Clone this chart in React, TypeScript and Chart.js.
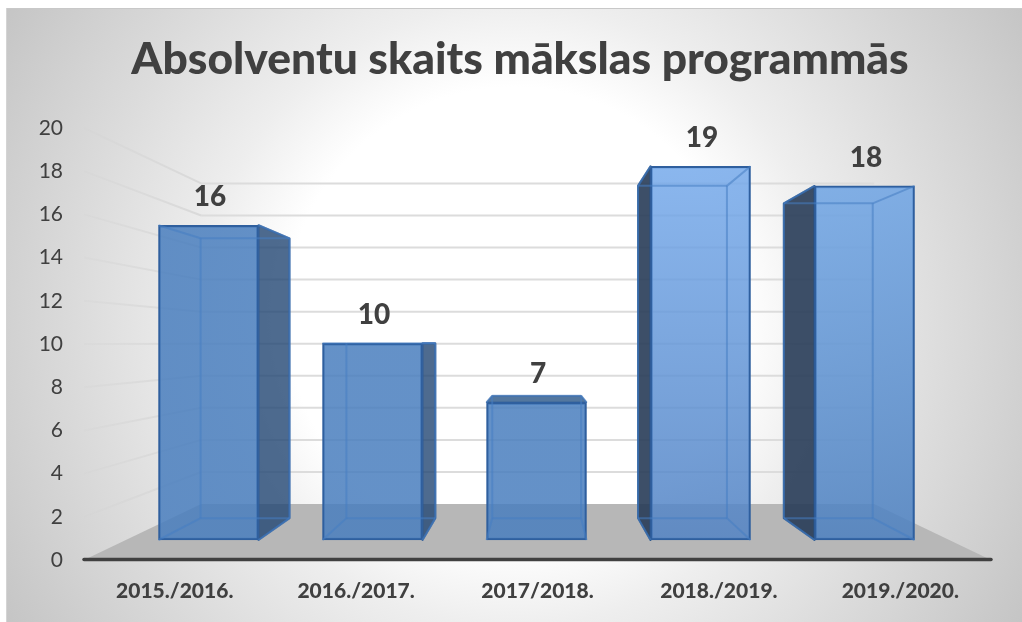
import React, { useEffect, useRef } from "react";
import { Chart, registerables } from "chart.js";

Chart.register(...registerables);

const categories = ["2015./2016.", "2016./2017.", "2017/2018.", "2018./2019.", "2019./2020."];
const absolventi = [16, 10, 7, 19, 18];
const barPositions = [0, 1, 2, 3, 4];
const topColors = ["rgba(73,126,190,0.85)", "rgba(73,126,190,0.85)", "rgba(73,126,190,0.85)", "rgba(120,172,237,0.85)", "rgba(114,168,232,0.85)"];
const bottomColors = ["rgba(73,126,190,0.85)", "rgba(73,126,190,0.85)", "rgba(73,126,190,0.85)", "rgba(82,131,196,0.85)", "rgba(76,128,192,0.85)"];
const titleText = "Absolventu skaits mākslas programmās";
const FONT = "Lato, 'Open Sans', sans-serif";
const TEXT = "#404040";

const VP = { x: 538, y: 343 };
const WALL_DEPTH = 0.742;
const BAR_DEPTH = 0.889;

const proj = (x: number, y: number, s: number) => ({ x: VP.x + s * (x - VP.x), y: VP.y + s * (y - VP.y) });

function poly(ctx: CanvasRenderingContext2D, pts: { x: number; y: number }[], fill?: string, stroke?: string, lw = 2) {
  ctx.beginPath();
  pts.forEach((p, i) => (i ? ctx.lineTo(p.x, p.y) : ctx.moveTo(p.x, p.y)));
  ctx.closePath();
  if (fill) {
    ctx.fillStyle = fill;
    ctx.fill();
  }
  if (stroke) {
    ctx.strokeStyle = stroke;
    ctx.lineWidth = lw;
    ctx.lineJoin = "round";
    ctx.stroke();
  }
}

function line(ctx: CanvasRenderingContext2D, a: { x: number; y: number }, b: { x: number; y: number }, stroke: any, lw = 2) {
  ctx.beginPath();
  ctx.moveTo(a.x, a.y);
  ctx.lineTo(b.x, b.y);
  ctx.strokeStyle = stroke;
  ctx.lineWidth = lw;
  ctx.stroke();
}

function barBox(el: any) {
  const l = el.x - el.width / 2;
  const r = el.x + el.width / 2;
  const t = el.y;
  const b = el.base;
  const bl = proj(l, b, BAR_DEPTH);
  const br = proj(r, b, BAR_DEPTH);
  const tl = proj(l, t, BAR_DEPTH);
  const tr = proj(r, t, BAR_DEPTH);
  return { l, r, t, b, bl, br, tl, tr };
}

const stagePlugin = {
  id: "stage",
  beforeDraw(chart: any) {
    const { ctx, width, height } = chart;
    ctx.save();
    ctx.fillStyle = "#ffffff";
    ctx.fillRect(0, 0, width, height);
    const g = ctx.createRadialGradient(514, 315, 0, 514, 315, 600);
    g.addColorStop(0, "#ffffff");
    g.addColorStop(0.38, "#ffffff");
    g.addColorStop(0.52, "#eeeeee");
    g.addColorStop(0.72, "#dcdcdc");
    g.addColorStop(1, "#c4c4c4");
    ctx.fillStyle = g;
    ctx.fillRect(6, 8, width - 6, height - 8);
    ctx.fillStyle = "#c8c8c8";
    ctx.fillRect(6, 8, width - 6, 1);
    ctx.fillStyle = "#d4d4d4";
    ctx.fillRect(6, 8, 1, height - 8);
    ctx.restore();
  },
  beforeDatasetsDraw(chart: any) {
    const { ctx, chartArea } = chart;
    const yScale = chart.scales.y;
    const { left, right, bottom } = chartArea;
    ctx.save();
    yScale.ticks.forEach((t: any) => {
      if (t.value === 0) return;
      const y = yScale.getPixelForValue(t.value);
      const a = proj(left, y, WALL_DEPTH);
      const b = proj(right, y, WALL_DEPTH);
      const fade = ctx.createLinearGradient(left, 0, a.x, 0);
      fade.addColorStop(0, "rgba(210,210,210,0.25)");
      fade.addColorStop(1, "rgba(214,214,214,0.85)");
      line(ctx, { x: left, y }, a, fade);
      line(ctx, a, b, "#dcdcdc");
    });
    poly(ctx, [
      { x: left, y: bottom },
      { x: right, y: bottom },
      proj(right, bottom, WALL_DEPTH),
      proj(left, bottom, WALL_DEPTH),
    ], "#b7b7b7");
    ctx.lineCap = "round";
    line(ctx, { x: left, y: bottom - 0.5 }, { x: right, y: bottom - 0.5 }, "#404040", 3.5);
    ctx.lineCap = "butt";

    chart.getDatasetMeta(0).data.forEach((el: any) => {
      const q = barBox(el);
      if (q.tl.x < q.l) {
        poly(ctx, [{ x: q.l, y: q.t }, q.tl, q.bl, { x: q.l, y: q.b }], "rgba(40,60,88,0.9)", "rgba(35,80,135,0.9)");
      }
      if (q.tr.x > q.r) {
        poly(ctx, [{ x: q.r, y: q.t }, q.tr, q.br, { x: q.r, y: q.b }], "rgba(34,70,115,0.8)", "rgba(45,90,150,0.85)");
      }
      if (q.t - q.tl.y > 2) {
        poly(ctx, [{ x: q.l, y: q.t }, q.tl, q.tr, { x: q.r, y: q.t }], "rgba(40,85,135,0.8)", "rgba(45,90,150,0.6)", 1.5);
      }
    });
    ctx.restore();
  },
  afterDatasetsDraw(chart: any) {
    const { ctx } = chart;
    const edge = "rgba(70,125,195,0.55)";
    ctx.save();
    chart.getDatasetMeta(0).data.forEach((el: any, i: number) => {
      const q = barBox(el);
      line(ctx, q.tl, q.tr, edge);
      line(ctx, q.bl, q.br, edge);
      line(ctx, q.tl, q.bl, edge);
      line(ctx, q.tr, q.br, edge);
      line(ctx, { x: q.l, y: q.t }, q.tl, edge);
      line(ctx, { x: q.r, y: q.t }, q.tr, edge);
      line(ctx, { x: q.l, y: q.b }, q.bl, edge);
      line(ctx, { x: q.r, y: q.b }, q.br, edge);
      ctx.fillStyle = TEXT;
      ctx.font = `900 28px ${FONT}`;
      ctx.textAlign = "center";
      ctx.textBaseline = "middle";
      ctx.fillText(String(absolventi[i]), el.x + 1.5, el.y - 28);
    });
    ctx.restore();
  },
};

export default function App() {
  const ref = useRef<HTMLCanvasElement>(null);
  useEffect(() => {
    const chart = new Chart(ref.current as HTMLCanvasElement, {
      type: "bar",
      data: {
        labels: categories,
        datasets: [
          {
            label: "Absolventu skaits",
            data: absolventi.map((v, i) => ({ x: barPositions[i], y: v })),
            xAxisID: "xBars",
            yAxisID: "yBars",
            barThickness: 100,
            borderWidth: 2,
            borderSkipped: false,
            borderColor: "#2f5f9e",
            backgroundColor: (c: any) => {
              const { chart: ch, dataIndex } = c;
              if (dataIndex === undefined) return topColors[0];
              const s = ch.scales.yBars;
              const y0 = s ? s.getPixelForValue(20) : NaN;
              const y1 = s ? s.getPixelForValue(0) : NaN;
              if (!ch.chartArea || !Number.isFinite(y0) || !Number.isFinite(y1)) return topColors[dataIndex];
              const g = ch.ctx.createLinearGradient(0, y0, 0, y1);
              g.addColorStop(0, topColors[dataIndex]);
              g.addColorStop(1, bottomColors[dataIndex]);
              return g;
            },
          },
        ],
      } as any,
      options: {
        responsive: false,
        animation: false,
        layout: { padding: { left: 18, right: 0, top: 0, bottom: 0 } },
        plugins: {
          legend: { display: false },
          tooltip: { enabled: false },
          title: {
            display: true,
            text: titleText,
            color: TEXT,
            font: { family: FONT, size: 44.4, weight: "900", lineHeight: 1.2 },
            padding: { top: 33.5, bottom: 41.2 },
          },
        },
        scales: {
          x: {
            type: "category",
            labels: categories,
            offset: true,
            grid: { display: false },
            border: { display: false },
            ticks: {
              color: TEXT,
              padding: 11,
              maxRotation: 0,
              autoSkip: false,
              font: { family: FONT, size: 21, weight: "900" },
            },
            afterFit: (s: any) => {
              s.height = 62;
            },
          },
          y: {
            type: "linear",
            min: 0,
            max: 20,
            grid: { display: false },
            border: { display: false },
            ticks: {
              stepSize: 2,
              color: TEXT,
              padding: 13,
              font: { family: FONT, size: 21 },
            },
            afterFit: (s: any) => {
              s.width = 66;
            },
          },
          xBars: { type: "linear", axis: "x", display: false, offset: false, min: -0.759, max: 4.771 },
          yBars: {
            type: "linear",
            axis: "y",
            position: "right",
            display: true,
            min: -1.017,
            max: 20.945,
            grid: { display: false },
            border: { display: false },
            ticks: { display: false },
            afterFit: (s: any) => {
              s.width = 31;
            },
          },
        },
      } as any,
      plugins: [stagePlugin],
    });
    return () => chart.destroy();
  }, []);
  return <canvas ref={ref} width={1022} height={622} style={{ position: "fixed", left: 0, top: 0, width: 1022, height: 622 }} />;
}
